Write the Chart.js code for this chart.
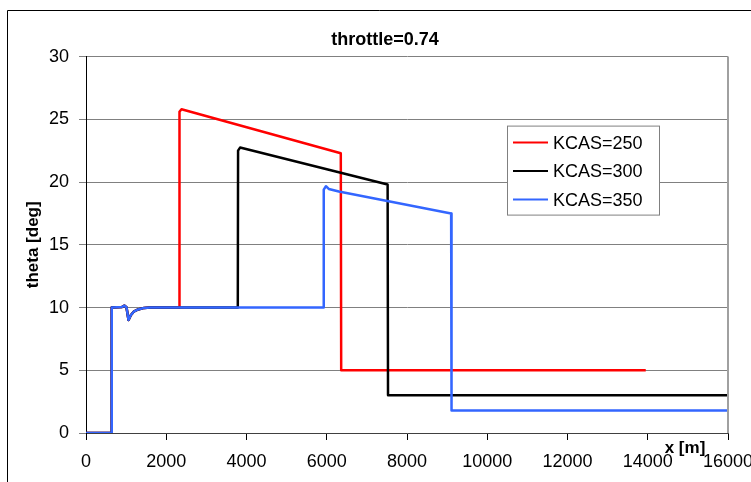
<!DOCTYPE html>
<html>
<head>
<meta charset="utf-8">
<script src="https://cdn.jsdelivr.net/npm/chart.js@4.4.1/dist/chart.umd.min.js"></script>
<style>
  html, body { margin: 0; padding: 0; background: #fff; }
  canvas { display: block; }
</style>
</head>
<body>
<canvas id="chart" width="751" height="482"></canvas>
<script>
const FONT = "'Liberation Sans', Arial, sans-serif";

const TITLE = 'throttle=0.74';
const X_TITLE = 'x [m]';
const Y_TITLE = 'theta [deg]';
const LABELS = ['KCAS=250', 'KCAS=300', 'KCAS=350'];
const COLORS = ['#ff0000', '#000000', '#3366ff'];

// x [m] / theta [deg]
const x250 = [0, 640, 642, 900, 960, 1010, 1060, 1120, 1200, 1300, 1450, 1600, 2325, 2330, 2380, 6350, 6360, 13950];
const y250 = [0, 0, 10, 10.05, 10.15, 10.0, 9.0, 9.4, 9.7, 9.85, 9.97, 10, 10, 25.6, 25.8, 22.3, 5, 5];

const x300 = [0, 640, 642, 900, 960, 1010, 1060, 1120, 1200, 1300, 1450, 1600, 3783, 3790, 3840, 7517, 7527, 16000];
const y300 = [0, 0, 10, 10.05, 10.15, 10.0, 9.0, 9.4, 9.7, 9.85, 9.97, 10, 10, 22.5, 22.75, 19.8, 3.0, 3.0];

const x350 = [0, 640, 642, 900, 960, 1010, 1060, 1120, 1200, 1300, 1450, 1600, 5917, 5925, 5980, 6050, 6300, 9100, 9110, 16000];
const y350 = [0, 0, 10, 10.05, 10.15, 10.0, 9.0, 9.4, 9.7, 9.85, 9.97, 10, 10, 19.4, 19.67, 19.45, 19.25, 17.5, 1.8, 1.8];

const X_TICKS = [0, 2000, 4000, 6000, 8000, 10000, 12000, 14000, 16000];
const Y_TICKS = [0, 5, 10, 15, 20, 25, 30];

function pts(xs, ys) {
  return xs.map((x, i) => ({x: x, y: ys[i]}));
}

const series = [[x250, y250], [x300, y300], [x350, y350]];
const datasets = series.map((s, i) => ({
  label: LABELS[i],
  data: pts(s[0], s[1]),
  borderColor: COLORS[i],
  backgroundColor: COLORS[i],
  borderWidth: 2.5,
  pointRadius: 0,
  showLine: true,
  fill: false,
  tension: 0,
  borderJoinStyle: 'round',
  order: series.length - i   // last series ends up on top
}));

// frame, axis titles, right border of plot and the boxed legend
const decor = {
  id: 'decor',
  beforeDraw(chart) {
    const ctx = chart.ctx;
    ctx.save();
    ctx.strokeStyle = '#000';
    ctx.lineWidth = 1;
    ctx.beginPath();
    ctx.moveTo(7.5, chart.height);
    ctx.lineTo(7.5, 10.5);
    ctx.lineTo(chart.width, 10.5);
    ctx.stroke();
    ctx.restore();
  },
  afterDraw(chart) {
    const ctx = chart.ctx;
    const a = chart.chartArea;
    ctx.save();
    // right border of plot area
    ctx.strokeStyle = '#a0a0a0';
    ctx.lineWidth = 2;
    ctx.beginPath();
    ctx.moveTo(a.right, a.top);
    ctx.lineTo(a.right, a.bottom);
    ctx.stroke();

    // axis titles
    ctx.fillStyle = '#000';
    ctx.font = 'bold 17px ' + FONT;
    ctx.textAlign = 'center';
    ctx.textBaseline = 'middle';
    ctx.fillText(X_TITLE, a.right - 43, a.bottom + 15);
    ctx.save();
    ctx.translate(33, (a.top + a.bottom) / 2);
    ctx.rotate(-Math.PI / 2);
    ctx.fillText(Y_TITLE, 0, 0);
    ctx.restore();

    // legend
    const lx = a.left + 421, ly = a.top + 69, lw = 152, lh = 89;
    ctx.fillStyle = '#fff';
    ctx.fillRect(lx, ly, lw, lh);
    ctx.strokeStyle = '#808080';
    ctx.lineWidth = 1;
    ctx.strokeRect(lx + 0.5, ly + 0.5, lw, lh);
    ctx.font = '18px ' + FONT;
    ctx.textAlign = 'left';
    chart.data.datasets.forEach((ds, i) => {
      const cy = ly + 17 + i * 28.5;
      ctx.strokeStyle = ds.borderColor;
      ctx.lineWidth = 2;
      ctx.beginPath();
      ctx.moveTo(lx + 6, cy);
      ctx.lineTo(lx + 41, cy);
      ctx.stroke();
      ctx.fillStyle = '#000';
      ctx.fillText(ds.label, lx + 46, cy + 1);
    });
    ctx.restore();
  }
};

new Chart(document.getElementById('chart'), {
  type: 'scatter',
  data: { datasets: datasets },
  options: {
    responsive: false,
    animation: false,
    devicePixelRatio: 1,
    layout: { padding: { left: 42, right: 23, top: 0, bottom: 0 } },
    plugins: {
      legend: { display: false },
      tooltip: { enabled: false },
      title: {
        display: true,
        text: TITLE,
        color: '#000',
        font: { family: FONT, size: 18, weight: 'bold' },
        padding: { top: 29, bottom: 6 }
      }
    },
    scales: {
      x: {
        type: 'linear',
        min: 0,
        max: 16000,
        afterBuildTicks: s => { s.ticks = X_TICKS.map(v => ({value: v})); },
        afterFit: s => { s.height = 49; s.paddingLeft = 0; s.paddingRight = 0; },
        ticks: {
          color: '#000',
          font: { family: FONT, size: 18 },
          padding: 11,
          maxRotation: 0,
          autoSkip: false,
          callback: v => String(v)
        },
        grid: { drawOnChartArea: false, drawTicks: true, tickLength: 7, tickColor: '#000' },
        border: { color: '#404040', width: 1 }
      },
      y: {
        type: 'linear',
        min: 0,
        max: 30,
        afterBuildTicks: s => { s.ticks = Y_TICKS.map(v => ({value: v})); },
        afterFit: s => { s.width = 44; },
        ticks: {
          color: '#000',
          font: { family: FONT, size: 18 },
          padding: 10,
          callback: v => String(v)
        },
        grid: { color: '#808080', lineWidth: 1, tickLength: 7, tickColor: '#808080' },
        border: { color: '#000', width: 1 }
      }
    }
  },
  plugins: [decor]
});
</script>
</body>
</html>
